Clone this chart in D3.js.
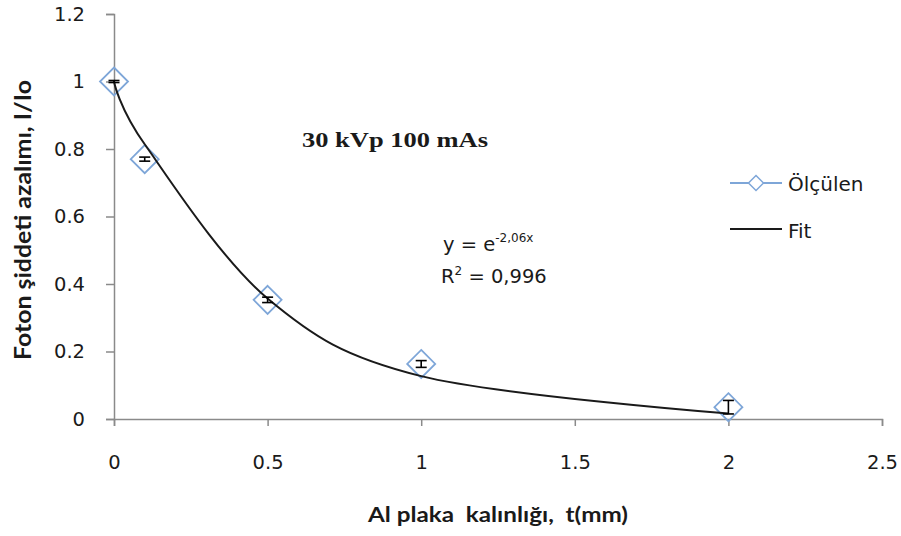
<!DOCTYPE html>
<html>
<head>
<meta charset="utf-8">
<script src="https://cdn.jsdelivr.net/npm/d3@7"></script>
<style>
  html, body { margin: 0; padding: 0; background: #fff; }
  svg { display: block; }
  text { font-family: "DejaVu Sans", Verdana, sans-serif; fill: #1a1a1a; white-space: pre; }
</style>
</head>
<body>
<svg id="chart" width="901" height="536"></svg>
<script>
// Measured attenuation of photon intensity versus Al plate thickness
const thickness = [0, 0.1, 0.5, 1, 2];
const measured = [1.0, 0.77, 0.353, 0.163, 0.035];
const errors = [0.003, 0.006, 0.008, 0.01, 0.02];
// Exponential fit y = e^(-2.06x) evaluated at each thickness
const fitValues = [1.0, 0.814, 0.357, 0.127, 0.016];

const xTicks = [0, 0.5, 1, 1.5, 2, 2.5];
const yTicks = [0, 0.2, 0.4, 0.6, 0.8, 1, 1.2];

const svg = d3.select("#chart");
const plotLeft = 114, plotRight = 882, plotTop = 14, plotBottom = 419;

const x = d3.scaleLinear().domain([0, 2.5]).range([plotLeft, plotRight]);
const y = d3.scaleLinear().domain([0, 1.2]).range([plotBottom, plotTop]);

const axisColor = "#8a8a8a";
const fmt = d => Number.isInteger(d) ? d3.format("d")(d) : d3.format(".1f")(d);

// Y axis
const yAxis = svg.append("g")
  .attr("transform", `translate(${plotLeft},0)`)
  .call(d3.axisLeft(y).tickValues(yTicks).tickSize(8).tickPadding(21).tickFormat(fmt));
yAxis.select(".domain").attr("stroke", axisColor).attr("stroke-width", 1.5);
yAxis.selectAll(".tick line").attr("stroke", axisColor).attr("stroke-width", 1.5);
yAxis.selectAll(".tick text").style("font-size", "19.5px").attr("fill", "#222");

// X axis
const xAxis = svg.append("g")
  .attr("transform", `translate(0,${plotBottom})`)
  .call(d3.axisBottom(x).tickValues(xTicks).tickSize(7).tickPadding(29).tickFormat(fmt));
xAxis.select(".domain").attr("stroke", axisColor).attr("stroke-width", 1.5);
xAxis.selectAll(".tick line").attr("stroke", axisColor).attr("stroke-width", 1.5);
xAxis.selectAll(".tick text").style("font-size", "19.5px").attr("fill", "#222");

// Axis titles
svg.append("text")
  .attr("x", 368).attr("y", 522)
  .attr("textLength", 260).attr("lengthAdjust", "spacingAndGlyphs")
  .style("font-family", "Lato, 'Open Sans', sans-serif")
  .style("font-size", "21px").style("font-weight", "bold")
  .text("Al plaka  kalınlığı,  t(mm)");

svg.append("text")
  .attr("transform", "translate(31,360) rotate(-90)")
  .attr("textLength", 280).attr("lengthAdjust", "spacingAndGlyphs")
  .style("font-family", "Lato, 'Open Sans', sans-serif")
  .style("font-size", "22px").style("font-weight", "bold")
  .text("Foton şiddeti azalımı, I/Io");

// Diamond marker path
const diamond = r => `M0,${-r}L${r},0L0,${r}L${-r},0Z`;
const markerColor = "#7ea6d8";

// Measured points
const pts = svg.append("g");
thickness.forEach((t, i) => {
  pts.append("path")
    .attr("d", diamond(14))
    .attr("transform", `translate(${x(t)},${y(measured[i])})`)
    .attr("fill", "none")
    .attr("stroke", markerColor)
    .attr("stroke-width", 1.8);
});

// Fit curve
const line = d3.line()
  .x((d, i) => x(thickness[i]))
  .y(d => y(d))
  .curve(d3.curveCardinal.tension(0));
svg.append("path")
  .datum(fitValues)
  .attr("d", line)
  .attr("fill", "none")
  .attr("stroke", "#1a1a1a")
  .attr("stroke-width", 2);

// Error bars
const eb = svg.append("g").attr("stroke", "#000").attr("stroke-width", 1.6);
thickness.forEach((t, i) => {
  const cx = x(t), y1 = y(measured[i] + errors[i]), y2 = y(measured[i] - errors[i]);
  eb.append("line").attr("x1", cx).attr("x2", cx).attr("y1", y1).attr("y2", y2);
  eb.append("line").attr("x1", cx - 5.5).attr("x2", cx + 5.5).attr("y1", y1).attr("y2", y1);
  eb.append("line").attr("x1", cx - 5.5).attr("x2", cx + 5.5).attr("y1", y2).attr("y2", y2);
});

// Chart title
svg.append("text")
  .attr("x", 302).attr("y", 147)
  .attr("textLength", 186).attr("lengthAdjust", "spacingAndGlyphs")
  .style("font-family", "'Liberation Serif', 'Times New Roman', serif")
  .style("font-size", "22px").style("font-weight", "bold")
  .attr("fill", "#000")
  .text("30 kVp 100 mAs");

// Fit equation
const eq = svg.append("text")
  .attr("x", 443).attr("y", 251)
  .style("font-size", "19.5px");
eq.append("tspan").text("y = e");
eq.append("tspan").attr("dy", -9).style("font-size", "12px").text("-2,06x");

const r2 = svg.append("text")
  .attr("x", 441).attr("y", 283)
  .style("font-size", "19.5px");
r2.append("tspan").text("R");
r2.append("tspan").attr("dy", -8).style("font-size", "12px").text("2");
r2.append("tspan").attr("dy", 8).text(" = 0,996");

// Legend
const lg = svg.append("g");
lg.append("line").attr("x1", 730).attr("x2", 782).attr("y1", 183).attr("y2", 183)
  .attr("stroke", markerColor).attr("stroke-width", 2);
lg.append("path").attr("d", diamond(7.5)).attr("transform", "translate(756,183)")
  .attr("fill", "#fff").attr("stroke", markerColor).attr("stroke-width", 1.5);
lg.append("text").attr("x", 788).attr("y", 191).style("font-size", "20px").text("Ölçülen");
lg.append("line").attr("x1", 730).attr("x2", 782).attr("y1", 229).attr("y2", 229)
  .attr("stroke", "#1a1a1a").attr("stroke-width", 2);
lg.append("text").attr("x", 788).attr("y", 238).style("font-size", "20px").text("Fit");
</script>
</body>
</html>
